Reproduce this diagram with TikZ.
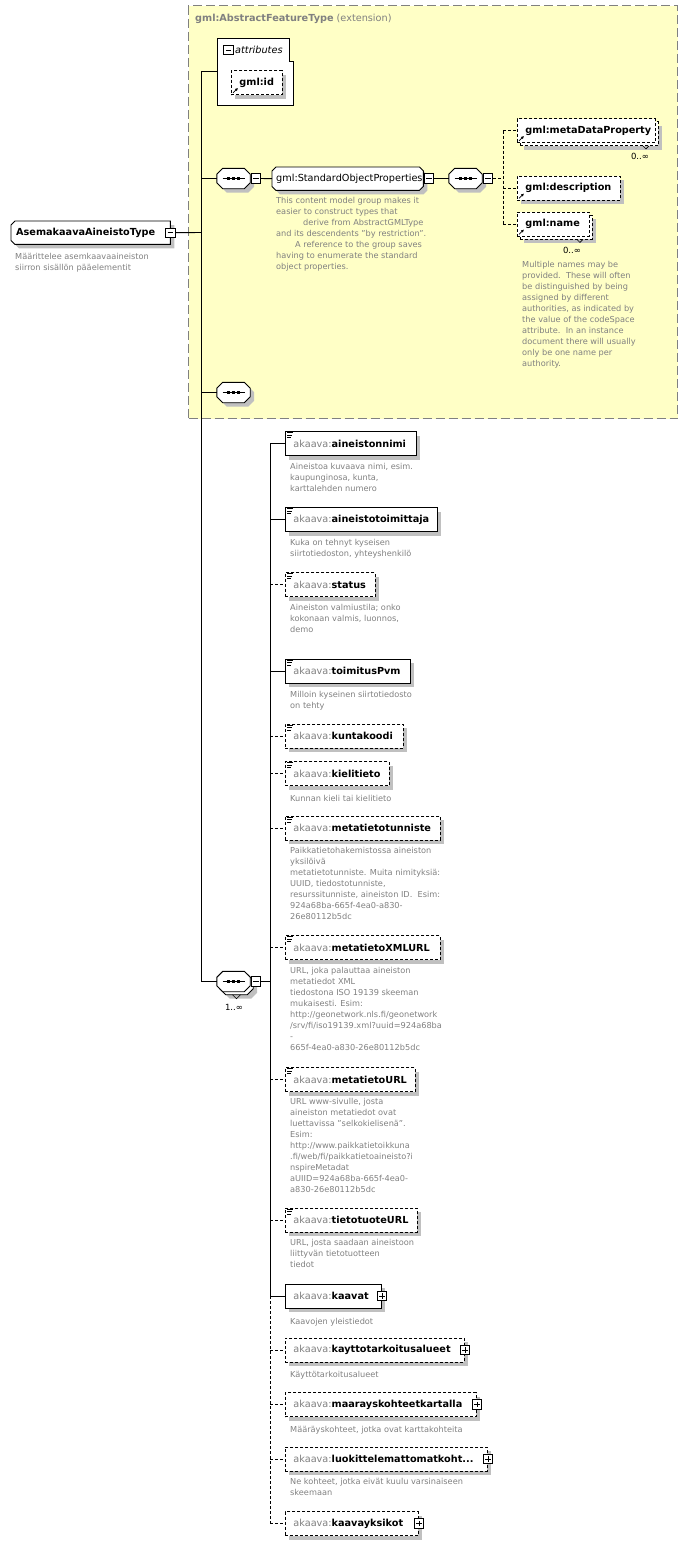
\documentclass[tikz,border=0pt]{standalone}
\usepackage{fontspec}
\setmainfont{DejaVu Sans}
\usetikzlibrary{arrows.meta}
\definecolor{extfill}{RGB}{255,255,198}
\definecolor{extborder}{RGB}{128,128,128}
\definecolor{shd}{RGB}{192,192,192}
\definecolor{desc}{RGB}{128,128,128}
\definecolor{nsgray}{RGB}{128,128,128}
\pgfdeclarelayer{ext}
\pgfdeclarelayer{shapes}
\pgfsetlayers{ext,shapes,main}
\newcommand\lab{\fontsize{9.7}{11}\selectfont}
\newcommand\dsc{\fontsize{8.2}{11}\selectfont}
\newcommand\mlt{\fontsize{8.5}{10}\selectfont}
\newcommand\ak[1]{\mbox{\textcolor{nsgray}{akaava:}\textbf{#1}}}
\newcommand\champath[5]{([xshift=#2]#1.north west) -- ([xshift=-#3]#1.north east) -- ([yshift=-#3]#1.north east) -- ([yshift=#4]#1.south east) -- ([xshift=-#4]#1.south east) -- ([xshift=#5]#1.south west) -- ([yshift=#5]#1.south west) -- ([yshift=-#2]#1.north west) -- cycle}
\newcommand\chamshad[5]{\fill[shd,transform canvas={xshift=4pt,yshift=-4pt}] \champath{#1}{#2}{#3}{#4}{#5};}
\newcommand\chamdraw[5]{\draw[line width=0.9pt,fill=white] \champath{#1}{#2}{#3}{#4}{#5};}
\newcommand\seqicon[1]{\draw[line width=0.8pt] ([xshift=-11pt]#1.center) -- ([xshift=11pt]#1.center);
  \foreach \d in {-5,0,5}{\fill ([xshift=\d pt]#1.center) +(-1.6pt,-1.6pt) rectangle +(1.6pt,1.6pt);}}
\newcommand\simpicon[1]{\draw[line width=0.7pt] ([xshift=2pt,yshift=-1.5pt]#1.north west) -- ++(6pt,0pt)
  ([xshift=2pt,yshift=-4pt]#1.north west) -- ++(5pt,0pt) ([xshift=2pt,yshift=-6.5pt]#1.north west) -- ++(4pt,0pt);}
\newcommand\refarrow[1]{\draw[line width=0.7pt,-{Latex[length=3pt,width=3pt]}] ([xshift=2pt,yshift=2pt]#1.south west) -- ++(5pt,5pt);}
\begin{document}
\begin{tikzpicture}[x=1pt,y=-1pt,
  conn/.style={line width=0.9pt},
  dsh/.style={dash pattern=on 3pt off 2pt},
  optconn/.style={conn,dsh},
  box/.style={draw, line width=0.9pt, fill=white, minimum height=24pt, inner xsep=8pt, inner ysep=0pt, font=\lab, align=left, anchor=west},
  shad/.style={preaction={fill=shd, draw=none, transform canvas={xshift=4pt,yshift=-4pt}}},
  elem/.style={box, shad},
  optelem/.style={elem, dsh},
  seqn/.style={minimum width=33pt, minimum height=20pt, inner sep=0pt},
  dnode/.style={anchor=north west, inner sep=0pt, font=\dsc, text=desc, align=left, execute at begin node=\strut},
  minusbox/.style={draw, fill=white, line width=0.7pt, minimum size=9.5pt, inner sep=0pt,
    path picture={\draw[line width=0.7pt] ([xshift=2pt]path picture bounding box.west) -- ([xshift=-2pt]path picture bounding box.east);}},
  plusbox/.style={draw, fill=white, line width=0.7pt, minimum size=9.5pt, inner sep=0pt,
    path picture={\draw[line width=0.7pt] ([xshift=2pt]path picture bounding box.west) -- ([xshift=-2pt]path picture bounding box.east)
      ([yshift=-2pt]path picture bounding box.north) -- ([yshift=2pt]path picture bounding box.south);}},
  multlab/.style={font=\mlt, inner sep=0pt}]
\useasboundingbox (0,0) rectangle (687,1545);

% extension area
\begin{pgfonlayer}{ext}
\node[draw=extborder, fill=extfill, line width=1pt, dash pattern=on 9pt off 4pt, minimum width=489pt, minimum height=413pt, anchor=north west, inner sep=0pt] (ext) at (188,5) {};
\end{pgfonlayer}
\node[anchor=west, inner sep=0pt, font=\lab, text=desc] (extt) at (195,19) {\textbf{gml:AbstractFeatureType} (extension)};

% root
\node[anchor=north west, minimum width=159pt, minimum height=23pt, inner xsep=5pt, inner ysep=0pt, text width=149pt, align=left, font=\lab] (root) at (11,221) {\textbf{AsemakaavaAineistoType}};
\begin{pgfonlayer}{shapes}\chamshad{root}{4pt}{0pt}{0pt}{4pt}\chamdraw{root}{4pt}{0pt}{0pt}{4pt}\end{pgfonlayer}
\node[minusbox] (rootm) at (root.east) {};
\node[dnode] (rootd) at (15,253.3) {Määrittelee asemkaavaaineiston\\siirron sisällön pääelementit};
\coordinate (rsp) at (201,232.5);
\draw[conn] (rootm.east) -- (rsp);

% attributes
\node[anchor=north west, inner sep=0pt, minimum width=76pt, minimum height=67pt] (attr) at (217,38) {};
\draw[conn, fill=white] (attr.north west) -- ([xshift=-4pt]attr.north east) -- ([xshift=-4pt,yshift=-23pt]attr.north east) -- ([yshift=-23pt]attr.north east) -- (attr.south east) -- (attr.south west) -- cycle;
\node[minusbox] (attrm) at (228.5,50) {};
\node[anchor=west, inner sep=0pt, font=\lab\itshape] (attrl) at (235,50) {attributes};
\node[optelem, text width=35pt] (gid) at (231,82.5) {\textbf{gml:id}};
\refarrow{gid}
\draw[conn] (rsp |- attr.west) -- (attr.west);

% first sequence and StandardObjectProperties
\node[seqn] (seqa) at (233.5,178.5) {};
\node[anchor=north west, minimum width=151pt, minimum height=23pt, inner xsep=4pt, inner ysep=0pt, text width=143pt, align=left, font=\lab] (sop) at (272,167) {gml:StandardObjectProperties};
\node[seqn] (seqc) at (465.5,178.5) {};
\begin{pgfonlayer}{shapes}
\chamshad{seqa}{6pt}{6pt}{6pt}{6pt}\chamdraw{seqa}{6pt}{6pt}{6pt}{6pt}
\chamshad{sop}{4pt}{4pt}{4pt}{4pt}\chamdraw{sop}{4pt}{4pt}{4pt}{4pt}
\chamshad{seqc}{6pt}{6pt}{6pt}{6pt}\chamdraw{seqc}{6pt}{6pt}{6pt}{6pt}
\end{pgfonlayer}
\seqicon{seqa}\seqicon{seqc}
\node[minusbox] (seqam) at (256,178.5) {};
\node[minusbox] (sopm) at (429,178.5) {};
\node[minusbox] (seqcm) at (488,178.5) {};
\draw[conn] (rsp |- seqa.west) -- (seqa.west);
\draw[conn] (seqam.east) -- (sop.west);
\draw[conn] (sopm.east) -- (seqc.west);
\node[dnode] (sopd) at (276,197.3) {This content model group makes it\\easier to construct types that\\\hspace*{27pt}derive from AbstractGMLType\\and its descendents "by restriction".\\\hspace*{19pt}A reference to the group saves\\having to enumerate the standard\\object properties.};

% gml children
\node[optelem, text width=122pt] (mdpb) at (520,133.5) {};
\node[box, dsh, text width=122pt] (mdp) at (517,130.5) {\textbf{gml:metaDataProperty}};
\refarrow{mdp}
\draw[line width=0.6pt] ([xshift=-16pt]mdpb.south east) -- ++(3pt,-3pt) -- ++(3pt,3pt);
\node[multlab] (mdpmult) at (640,156) {0..∞};
\node[optelem, text width=87pt] (gdesc) at (517,188) {\textbf{gml:description}};
\refarrow{gdesc}
\node[optelem, text width=56pt] (gnameb) at (520,227) {};
\node[box, dsh, text width=56pt] (gname) at (517,224) {\textbf{gml:name}};
\refarrow{gname}
\draw[line width=0.6pt] ([xshift=-16pt]gnameb.south east) -- ++(3pt,-3pt) -- ++(3pt,3pt);
\node[multlab] (gnamemult) at (572,250) {0..∞};
\node[dnode] (gnamed) at (522,261.3) {Multiple names may be\\provided.\ \ These will often\\be distinguished by being\\assigned by different\\authorities, as indicated by\\the value of the codeSpace\\attribute.\ \ In an instance\\document there will usually\\only be one name per\\authority.};
\coordinate (gsp) at (503,178.5);
\draw[optconn] (seqcm.east) -- (gsp);
\draw[optconn] (gsp |- mdp.west) -- (gsp |- gname.west);
\draw[optconn] (gsp |- mdp.west) -- (mdp.west);
\draw[optconn] (gsp |- gdesc.west) -- (gdesc.west);
\draw[optconn] (gsp |- gname.west) -- (gname.west);

% third sequence
\node[seqn] (seqd) at (233.5,392.5) {};
\begin{pgfonlayer}{shapes}\chamshad{seqd}{6pt}{6pt}{6pt}{6pt}\chamdraw{seqd}{6pt}{6pt}{6pt}{6pt}\end{pgfonlayer}
\seqicon{seqd}
\draw[conn] (rsp |- seqd.west) -- (seqd.west);

% main sequence 1..inf
\node[seqn] (seqbb) at (236.5,984.5) {};
\node[seqn] (seqb) at (233.5,981.5) {};
\begin{pgfonlayer}{shapes}
\chamshad{seqbb}{6pt}{6pt}{6pt}{6pt}\chamdraw{seqbb}{6pt}{6pt}{6pt}{6pt}
\chamdraw{seqb}{6pt}{6pt}{6pt}{6pt}
\end{pgfonlayer}
\draw[line width=0.6pt] ([xshift=-4pt]seqbb.south) -- ++(4pt,-4pt) -- ++(4pt,4pt);
\seqicon{seqb}
\node[minusbox] (seqbm) at (256,981.5) {};
\node[multlab] (seqbmult) at (234,1007) {1..∞};
\draw[conn] (rsp |- attr.west) -- (rsp |- seqb.west);
\draw[conn] (rsp |- seqb.west) -- (seqb.west);
\coordinate (esp) at (270,981.5);
\draw[conn] (seqbm.east) -- (esp);

% elements
\node[elem, text width=115pt] (e1) at (285,443.5) {\ak{aineistonnimi}};
\node[elem, text width=136pt] (e2) at (285,519.5) {\ak{aineistotoimittaja}};
\node[optelem, text width=74pt] (e3) at (285,584.5) {\ak{status}};
\node[elem, text width=109pt] (e4) at (285,671) {\ak{toimitusPvm}};
\node[optelem, text width=102pt] (e5) at (285,736) {\ak{kuntakoodi}};
\node[optelem, text width=88pt] (e6) at (285,773.5) {\ak{kielitieto}};
\node[optelem, text width=139pt] (e7) at (285,828) {\ak{metatietotunniste}};
\node[optelem, text width=139pt] (e8) at (285,947.5) {\ak{metatietoXMLURL}};
\node[optelem, text width=114pt] (e9) at (285,1079.5) {\ak{metatietoURL}};
\node[optelem, text width=116pt] (e10) at (285,1220) {\ak{tietotuoteURL}};
\node[elem, text width=80pt] (e11) at (285,1296) {\ak{kaavat}};
\node[optelem, text width=163pt] (e12) at (285,1350) {\ak{kayttotarkoitusalueet}};
\node[optelem, text width=175pt] (e13) at (285,1404.5) {\ak{maarayskohteetkartalla}};
\node[optelem, text width=186pt] (e14) at (285,1459) {\ak{luokittelemattomatkoht...}};
\node[optelem, text width=117pt] (e15) at (285,1523.5) {\ak{kaavayksikot}};
\foreach \n in {e1,e2,e3,e4,e5,e6,e7,e8,e9,e10}{\simpicon{\n}}
\foreach \n in {e11,e12,e13,e14,e15}{\node[plusbox] (\n p) at (\n.east) {};}

\draw[conn] (esp |- e1.west) -- (esp |- e11.west);
\draw[optconn] (esp |- e11.west) -- (esp |- e15.west);
\foreach \n in {e1,e2,e4,e11}{\draw[conn] (esp |- \n.west) -- (\n.west);}
\foreach \n in {e3,e5,e6,e7,e8,e9,e10,e12,e13,e14,e15}{\draw[optconn] (esp |- \n.west) -- (\n.west);}

% descriptions
\node[dnode] (d1) at (290,463.3) {Aineistoa kuvaava nimi, esim.\\kaupunginosa, kunta,\\karttalehden numero};
\node[dnode] (d2) at (290,539.3) {Kuka on tehnyt kyseisen\\siirtotiedoston, yhteyshenkilö};
\node[dnode] (d3) at (290,604.3) {Aineiston valmiustila; onko\\kokonaan valmis, luonnos,\\demo};
\node[dnode] (d4) at (290,691.3) {Milloin kyseinen siirtotiedosto\\on tehty};
\node[dnode] (d6) at (290,793.3) {Kunnan kieli tai kielitieto};
\node[dnode] (d7) at (290,847.3) {Paikkatietohakemistossa aineiston\\yksilöivä\\metatietotunniste. Muita nimityksiä:\\UUID, tiedostotunniste,\\resurssitunniste, aineiston ID.\ \ Esim:\\924a68ba-665f-4ea0-a830-\\26e80112b5dc};
\node[dnode] (d8) at (290,967.3) {URL, joka palauttaa aineiston\\metatiedot XML\\tiedostona ISO 19139 skeeman\\mukaisesti. Esim:\\http://geonetwork.nls.fi/geonetwork\\/srv/fi/iso19139.xml?uuid=924a68ba\\-\\665f-4ea0-a830-26e80112b5dc};
\node[dnode] (d9) at (290,1098.3) {URL www-sivulle, josta\\aineiston metatiedot ovat\\luettavissa "selkokielisenä".\\Esim:\\http://www.paikkatietoikkuna\\.fi/web/fi/paikkatietoaineisto?i\\nspireMetadat\\aUIID=924a68ba-665f-4ea0-\\a830-26e80112b5dc};
\node[dnode] (d10) at (290,1239.3) {URL, josta saadaan aineistoon\\liittyvän tietotuotteen\\tiedot};
\node[dnode] (d11) at (290,1316.3) {Kaavojen yleistiedot};
\node[dnode] (d12) at (290,1369.3) {Käyttötarkoitusalueet};
\node[dnode] (d13) at (290,1424.3) {Määräyskohteet, jotka ovat karttakohteita};
\node[dnode] (d14) at (290,1478.3) {Ne kohteet, jotka eivät kuulu varsinaiseen\\skeemaan};
\end{tikzpicture}
\end{document}
